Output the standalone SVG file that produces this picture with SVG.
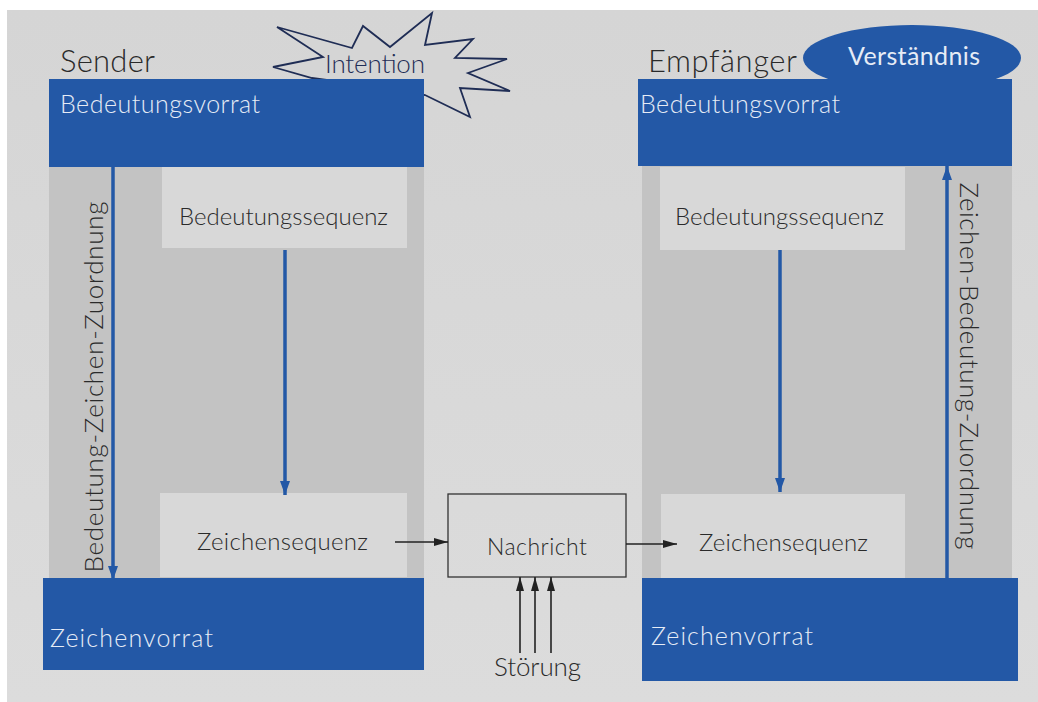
<svg xmlns="http://www.w3.org/2000/svg" width="1038" height="702" viewBox="0 0 1038 702">
<defs>
<style>
.txt{font-family:Lato,"Liberation Sans",sans-serif;font-weight:300;fill:#2a2a2a}
.wt{font-family:Lato,"Liberation Sans",sans-serif;font-weight:300;fill:#e6ecf6}
.blue{fill:#2358a6}
.panel{fill:#c3c3c3}
.inner{fill:#d8d8d8}
.barr{stroke:#2358a6;stroke-width:3.5;fill:none}
.karr{stroke:#222;stroke-width:1.6;fill:none}
</style>
<linearGradient id="pg" x1="0" y1="0" x2="0" y2="1">
<stop offset="0" stop-color="#d5d5d5"/>
<stop offset="1" stop-color="#dcdcdc"/>
</linearGradient>
<marker id="mb" markerUnits="userSpaceOnUse" markerWidth="14" markerHeight="10" refX="14" refY="5" orient="auto">
<path d="M0,0 L14,5 L0,10 z" fill="#2358a6"/>
</marker>
<marker id="mk" markerUnits="userSpaceOnUse" markerWidth="14" markerHeight="10" refX="14" refY="5" orient="auto">
<path d="M0,1 L14,5 L0,9 z" fill="#222"/>
</marker>
</defs>
<rect width="1038" height="702" fill="#ffffff"/>
<rect x="7" y="10" width="1031" height="692" fill="url(#pg)"/>

<g id="intention">
<polygon points="273,67 323,57 277,27 352,48 363,26 390,47 432,13 425,45 473,39 455,58 507,59 468,73 510,91 460,88 470,117 425,95 400,90 312,78" fill="#d5d5d5" stroke="#1f2d55" stroke-width="1.8" stroke-linejoin="miter"/>
<text class="txt" x="325" y="73" font-size="26" style="fill:#1f2d55" textLength="100">Intention</text>
</g>

<g id="verstaendnis">
<ellipse cx="912" cy="58" rx="109" ry="33" class="blue"/>
<text class="wt" x="848" y="65" font-size="25" style="font-weight:400" textLength="132">Verständnis</text>
</g>

<g id="sender">
<text class="txt" x="60" y="72" font-size="31" textLength="95">Sender</text>
<rect x="49" y="166" width="375" height="412" class="panel"/>
<rect x="49" y="79" width="375" height="88" class="blue"/>
<text class="wt" x="60" y="113" font-size="25" textLength="200">Bedeutungsvorrat</text>
<rect x="43" y="578" width="381" height="92" class="blue"/>
<text class="wt" x="50" y="647" font-size="25" textLength="163">Zeichenvorrat</text>
<text class="txt" transform="translate(103,387) rotate(-90)" text-anchor="middle" font-size="26" textLength="371">Bedeutung-Zeichen-Zuordnung</text>
</g>

<g id="sender-bedeutungssequenz">
<rect x="162" y="167" width="245" height="81" class="inner"/>
<text class="txt" x="179" y="225" font-size="24" textLength="209">Bedeutungssequenz</text>
</g>

<g id="sender-zeichensequenz">
<rect x="160" y="493" width="247" height="84" class="inner"/>
<text class="txt" x="197" y="550" font-size="24" textLength="171">Zeichensequenz</text>
</g>

<g id="nachricht">
<rect x="448" y="494" width="178" height="83" fill="none" stroke="#333" stroke-width="1.3"/>
<text class="txt" x="487" y="555" font-size="23" textLength="100">Nachricht</text>
</g>

<g id="stoerung">
<text class="txt" x="494" y="676" font-size="26" textLength="87">Störung</text>
</g>

<g id="empfaenger">
<text class="txt" x="648" y="72" font-size="31" textLength="149">Empfänger</text>
<rect x="642" y="166" width="370" height="414" class="panel"/>
<rect x="638" y="79" width="374" height="87" class="blue"/>
<text class="wt" x="640" y="113" font-size="25" textLength="200">Bedeutungsvorrat</text>
<rect x="642" y="578" width="376" height="103" class="blue"/>
<text class="wt" x="651" y="645" font-size="25" textLength="162">Zeichenvorrat</text>
<text class="txt" transform="translate(960,366) rotate(90)" text-anchor="middle" font-size="26" textLength="367">Zeichen-Bedeutung-Zuordnung</text>
</g>

<g id="empfaenger-bedeutungssequenz">
<rect x="660" y="167" width="245" height="83" class="inner"/>
<text class="txt" x="675" y="225" font-size="24" textLength="209">Bedeutungssequenz</text>
</g>

<g id="empfaenger-zeichensequenz">
<rect x="661" y="494" width="244" height="84" class="inner"/>
<text class="txt" x="699" y="551" font-size="24" textLength="169">Zeichensequenz</text>
</g>

<g id="connectors">
<line x1="113" y1="167" x2="113" y2="580" class="barr" marker-end="url(#mb)"/>
<line x1="285" y1="250" x2="285" y2="495" class="barr" marker-end="url(#mb)"/>
<line x1="780" y1="250" x2="780" y2="492" class="barr" marker-end="url(#mb)"/>
<line x1="947" y1="578" x2="947" y2="166" class="barr" marker-end="url(#mb)"/>
<line x1="395" y1="542" x2="448" y2="542" class="karr" marker-end="url(#mk)"/>
<line x1="626" y1="544" x2="677" y2="544" class="karr" marker-end="url(#mk)"/>
<line x1="520" y1="653" x2="520" y2="577" class="karr" marker-end="url(#mk)"/>
<line x1="535" y1="653" x2="535" y2="577" class="karr" marker-end="url(#mk)"/>
<line x1="551" y1="653" x2="551" y2="577" class="karr" marker-end="url(#mk)"/>
</g>
</svg>
